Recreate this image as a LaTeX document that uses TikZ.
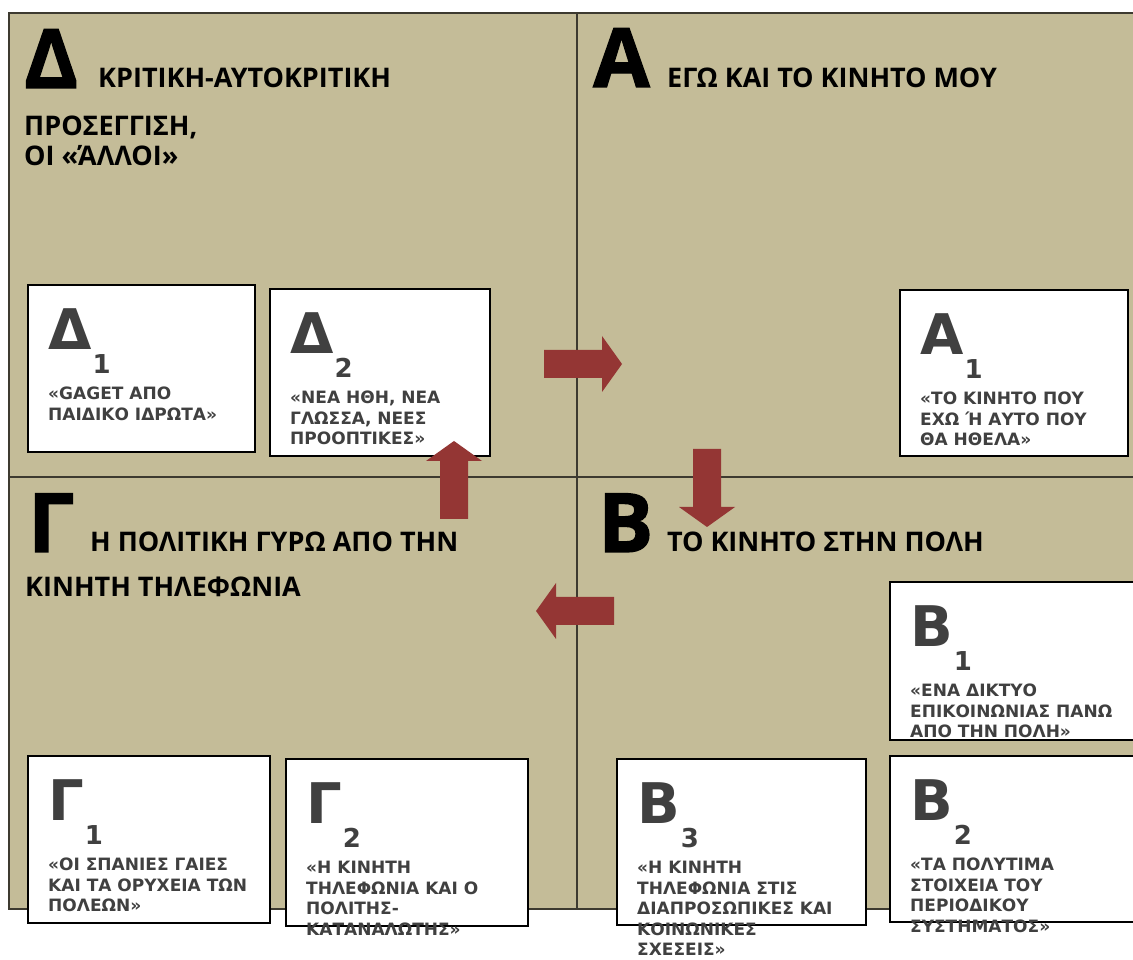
\documentclass[tikz,border=0pt]{standalone}
\usepackage{fontspec}
\usetikzlibrary{positioning}
\newfontfamily\headfont{Open Sans}
\newfontfamily\bigfont{Open Sans}[FakeBold=1.5]
\newfontfamily\cardfont{DejaVu Sans}
\definecolor{panel}{HTML}{C4BC98}
\definecolor{frame}{HTML}{3D3A30}
\definecolor{flowred}{HTML}{943634}
\definecolor{ink}{HTML}{404040}
\tikzset{
    card/.style={draw=black, line width=1.6pt, fill=white, inner sep=0pt, outer sep=0pt, anchor=north west},
    cardletter/.style={inner sep=0pt, anchor=base west, text=ink, font=\cardfont\bfseries\fontsize{56}{56}\selectfont},
    cardtext/.style={inner sep=0pt, anchor=north west, align=left, text=ink, font=\cardfont\bfseries\fontsize{17}{20.5}\selectfont},
    bigletter/.style={inner sep=0pt, anchor=base west, font=\bigfont\bfseries\fontsize{82}{82}\selectfont},
    title/.style={inner sep=0pt, anchor=base west, align=left, font=\headfont\bfseries\fontsize{27}{30}\selectfont},
}
\begin{document}
\begin{tikzpicture}[x=1pt,y=1pt]
    \useasboundingbox (0,0) rectangle (1133,959);
    % board and quadrants
    \fill[panel] (9,50) rectangle (1133,946);
    \draw[frame, line width=1.5pt] (1133,946) -- (9,946) -- (9,50) -- (1133,50);
    \draw[frame, line width=1.5pt] (577,946) -- (577,50);
    \draw[frame, line width=1.5pt] (9,482) -- (1133,482);

    % quadrant titles
    \node[bigletter] (dbig) at (24,871) {Δ};
    \node[title] (dtitle) at (98,871) {ΚΡΙΤΙΚΗ-ΑΥΤΟΚΡΙΤΙΚΗ};
    \node[title] (dsub) at (24,793) {ΠΡΟΣΕΓΓΙΣΗ,\\ΟΙ «ΆΛΛΟΙ»};
    \node[bigletter] (abig) at (593,872) {Α};
    \node[title] (atitle) at (667,871) {ΕΓΩ ΚΑΙ ΤΟ ΚΙΝΗΤΟ ΜΟΥ};
    \node[bigletter] (gbig) at (28,407) {Γ};
    \node[title] (gtitle) at (90,407) {Η ΠΟΛΙΤΙΚΗ ΓΥΡΩ ΑΠΟ ΤΗΝ};
    \node[title] (gsub) at (25,362) {ΚΙΝΗΤΗ ΤΗΛΕΦΩΝΙΑ};
    \node[bigletter] (bbig) at (598,407) {Β};
    \node[title] (btitle) at (667,407) {ΤΟ ΚΙΝΗΤΟ ΣΤΗΝ ΠΟΛΗ};

    % cards
    \foreach \n/\x/\y/\w/\h/\l/\s/\t in {
        d1/28/674/227/167/Δ/1/{«GAGET ΑΠΟ\\ΠΑΙΔΙΚΟ ΙΔΡΩΤΑ»},
        d2/270/670/220/167/Δ/2/{«ΝΕΑ ΗΘΗ, ΝΕΑ\\ΓΛΩΣΣΑ, ΝΕΕΣ\\ΠΡΟΟΠΤΙΚΕΣ»},
        a1/900/669/228/166/Α/1/{«ΤΟ ΚΙΝΗΤΟ ΠΟΥ\\ΕΧΩ Ή ΑΥΤΟ ΠΟΥ\\ΘΑ ΗΘΕΛΑ»},
        b1/890/377/244/158/Β/1/{«ΕΝΑ ΔΙΚΤΥΟ\\ΕΠΙΚΟΙΝΩΝΙΑΣ ΠΑΝΩ\\ΑΠΟ ΤΗΝ ΠΟΛΗ»},
        g1/28/203/242/167/Γ/1/{«ΟΙ ΣΠΑΝΙΕΣ ΓΑΙΕΣ\\ΚΑΙ ΤΑ ΟΡΥΧΕΙΑ ΤΩΝ\\ΠΟΛΕΩΝ»},
        g2/286/200/242/167/Γ/2/{«Η ΚΙΝΗΤΗ\\ΤΗΛΕΦΩΝΙΑ ΚΑΙ Ο\\ΠΟΛΙΤΗΣ-\\ΚΑΤΑΝΑΛΩΤΗΣ»},
        b3/617/200/249/166/Β/3/{«Η ΚΙΝΗΤΗ\\ΤΗΛΕΦΩΝΙΑ ΣΤΙΣ\\ΔΙΑΠΡΟΣΩΠΙΚΕΣ ΚΑΙ\\ΚΟΙΝΩΝΙΚΕΣ\\ΣΧΕΣΕΙΣ»},
        b2/890/203/244/166/Β/2/{«ΤΑ ΠΟΛΥΤΙΜΑ\\ΣΤΟΙΧΕΙΑ ΤΟΥ\\ΠΕΡΙΟΔΙΚΟΥ\\ΣΥΣΤΗΜΑΤΟΣ»}} {
        \node[card, minimum width=\w pt, minimum height=\h pt] (\n) at (\x,\y) {};
        \node[cardletter] (\n-l) at ([shift={(20,-65)}]\n.north west) {\l\kern1pt\raisebox{-24pt}{\fontsize{26}{26}\selectfont\s}};
        \node[cardtext] (\n-t) at ([shift={(20,-102)}]\n.north west) {\t};
    }

    % block arrows between quadrants
    \foreach \cx/\cy/\ang in {583/595/0, 707/471/-90, 575/348/180, 454/479/90}
        \fill[flowred, shift={(\cx,\cy)}, rotate=\ang]
            (-39,-14) -- (19,-14) -- (19,-28) -- (39,0) -- (19,28) -- (19,14) -- (-39,14) -- cycle;

\end{tikzpicture}
\end{document}
